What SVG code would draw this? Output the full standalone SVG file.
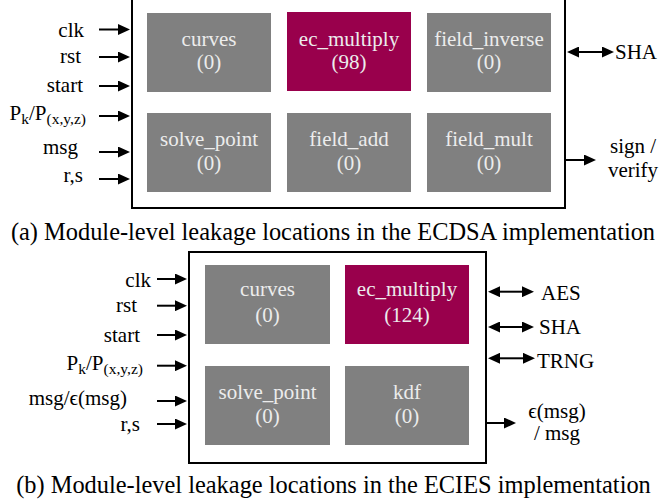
<svg xmlns="http://www.w3.org/2000/svg" width="662" height="499" viewBox="0 0 662 499">
<style>
.t{font-family:'Liberation Serif','Times New Roman',serif;font-size:21px;fill:#000}
.blk{fill:#808080}
.hot{fill:#99004c}
.bt{fill:#ececec;text-anchor:middle}
.end{text-anchor:end}
.mid{text-anchor:middle}
.cap{font-size:24.4px;text-anchor:middle}
.frame{fill:none;stroke:#000;stroke-width:2}
.ln{stroke:#000;stroke-width:2;fill:none;marker-end:url(#ah)}
.dl{stroke:#000;stroke-width:2;fill:none;marker-end:url(#ah);marker-start:url(#ah)}
</style>
<defs>
<marker id="ah" markerUnits="userSpaceOnUse" markerWidth="13" markerHeight="11" refX="1" refY="5.5" orient="auto-start-reverse">
<path d="M0,0 L12,5.5 L0,11 z" fill="#000"/>
</marker>
</defs>
<rect width="662" height="499" fill="#fff"/>
<g class="t">

<!-- (a) ECDSA -->
<rect id="ecdsa-frame" class="frame" x="132" y="-10" width="433" height="218"/>
<g id="a-curves"><rect class="blk" x="147" y="13" width="124" height="79"/><text class="bt" x="209" y="45.5">curves</text><text class="bt" x="209" y="69">(0)</text></g>
<g id="a-ec_multiply"><rect class="hot" x="287" y="12" width="124" height="79"/><text class="bt" x="349" y="45.5">ec_multiply</text><text class="bt" x="349" y="69">(98)</text></g>
<g id="a-field_inverse"><rect class="blk" x="427" y="13" width="124" height="79"/><text class="bt" x="489" y="45.5">field_inverse</text><text class="bt" x="489" y="69">(0)</text></g>
<g id="a-solve_point"><rect class="blk" x="147" y="113" width="124" height="79"/><text class="bt" x="209" y="146">solve_point</text><text class="bt" x="209" y="170">(0)</text></g>
<g id="a-field_add"><rect class="blk" x="287" y="113" width="124" height="79"/><text class="bt" x="349" y="146">field_add</text><text class="bt" x="349" y="170">(0)</text></g>
<g id="a-field_mult"><rect class="blk" x="427" y="113" width="124" height="79"/><text class="bt" x="489" y="146">field_mult</text><text class="bt" x="489" y="170">(0)</text></g>

<g id="a-labels">
<text class="end" x="84" y="37">clk</text>
<text class="end" x="81" y="63">rst</text>
<text class="end" x="83" y="92">start</text>
<text class="end" x="86" y="120">P<tspan font-size="15.5" dy="4">k</tspan><tspan dy="-4">/P</tspan><tspan font-size="15.5" dy="4">(x,y,z)</tspan></text>
<text class="end" x="78" y="154">msg</text>
<text class="end" x="83" y="182">r,s</text>
<text x="615" y="59">SHA</text>
<text class="mid" x="633" y="153">sign /</text>
<text class="mid" x="633" y="177">verify</text>
</g>

<g id="a-connectors">
<line class="ln" x1="99" y1="29.5" x2="119" y2="29.5"/>
<line class="ln" x1="99" y1="57" x2="119" y2="57"/>
<line class="ln" x1="99" y1="86" x2="119" y2="86"/>
<line class="ln" x1="99" y1="116" x2="119" y2="116"/>
<line class="ln" x1="99" y1="152" x2="119" y2="152"/>
<line class="ln" x1="99" y1="179" x2="119" y2="179"/>
<line class="dl" x1="578" y1="52" x2="603" y2="52"/>
<line class="ln" x1="565" y1="160" x2="585" y2="160"/>
</g>

<text id="cap-a" class="cap" x="333" y="240">(a) Module-level leakage locations in the ECDSA implementation</text>

<!-- (b) ECIES -->
<rect id="ecies-frame" class="frame" x="189" y="252" width="297" height="211"/>
<g id="b-curves"><rect class="blk" x="205" y="265" width="125" height="79"/><text class="bt" x="267.5" y="296">curves</text><text class="bt" x="267.5" y="321.5">(0)</text></g>
<g id="b-ec_multiply"><rect class="hot" x="345" y="265" width="124" height="79"/><text class="bt" x="407" y="296">ec_multiply</text><text class="bt" x="407" y="321.5">(124)</text></g>
<g id="b-solve_point"><rect class="blk" x="205" y="366" width="125" height="79"/><text class="bt" x="267.5" y="399">solve_point</text><text class="bt" x="267.5" y="423">(0)</text></g>
<g id="b-kdf"><rect class="blk" x="345" y="366" width="124" height="79"/><text class="bt" x="407" y="399">kdf</text><text class="bt" x="407" y="423">(0)</text></g>

<g id="b-labels">
<text class="end" x="151" y="286.7">clk</text>
<text class="end" x="137" y="311.7">rst</text>
<text class="end" x="140" y="341.7">start</text>
<text class="end" x="143" y="370">P<tspan font-size="15.5" dy="4">k</tspan><tspan dy="-4">/P</tspan><tspan font-size="15.5" dy="4">(x,y,z)</tspan></text>
<text class="end" x="127" y="405">msg/ϵ(msg)</text>
<text class="end" x="140" y="431">r,s</text>
<text x="541" y="300">AES</text>
<text x="539" y="334.3">SHA</text>
<text x="537" y="368.3">TRNG</text>
<text class="mid" x="557" y="418.3">ϵ(msg)</text>
<text class="mid" x="557" y="440">/ msg</text>
</g>

<g id="b-connectors">
<line class="ln" x1="157" y1="279" x2="176" y2="279"/>
<line class="ln" x1="157" y1="305.7" x2="176" y2="305.7"/>
<line class="ln" x1="157" y1="335" x2="176" y2="335"/>
<line class="ln" x1="157" y1="365.7" x2="176" y2="365.7"/>
<line class="ln" x1="157" y1="401" x2="176" y2="401"/>
<line class="ln" x1="157" y1="424" x2="176" y2="424"/>
<line class="dl" x1="499" y1="291.7" x2="523" y2="291.7"/>
<line class="dl" x1="499" y1="327" x2="523" y2="327"/>
<line class="dl" x1="499" y1="358.3" x2="524" y2="358.3"/>
<line class="ln" x1="486" y1="423" x2="505" y2="423"/>
</g>

<text id="cap-b" class="cap" x="333.5" y="493">(b) Module-level leakage locations in the ECIES implementation</text>
</g>
</svg>
